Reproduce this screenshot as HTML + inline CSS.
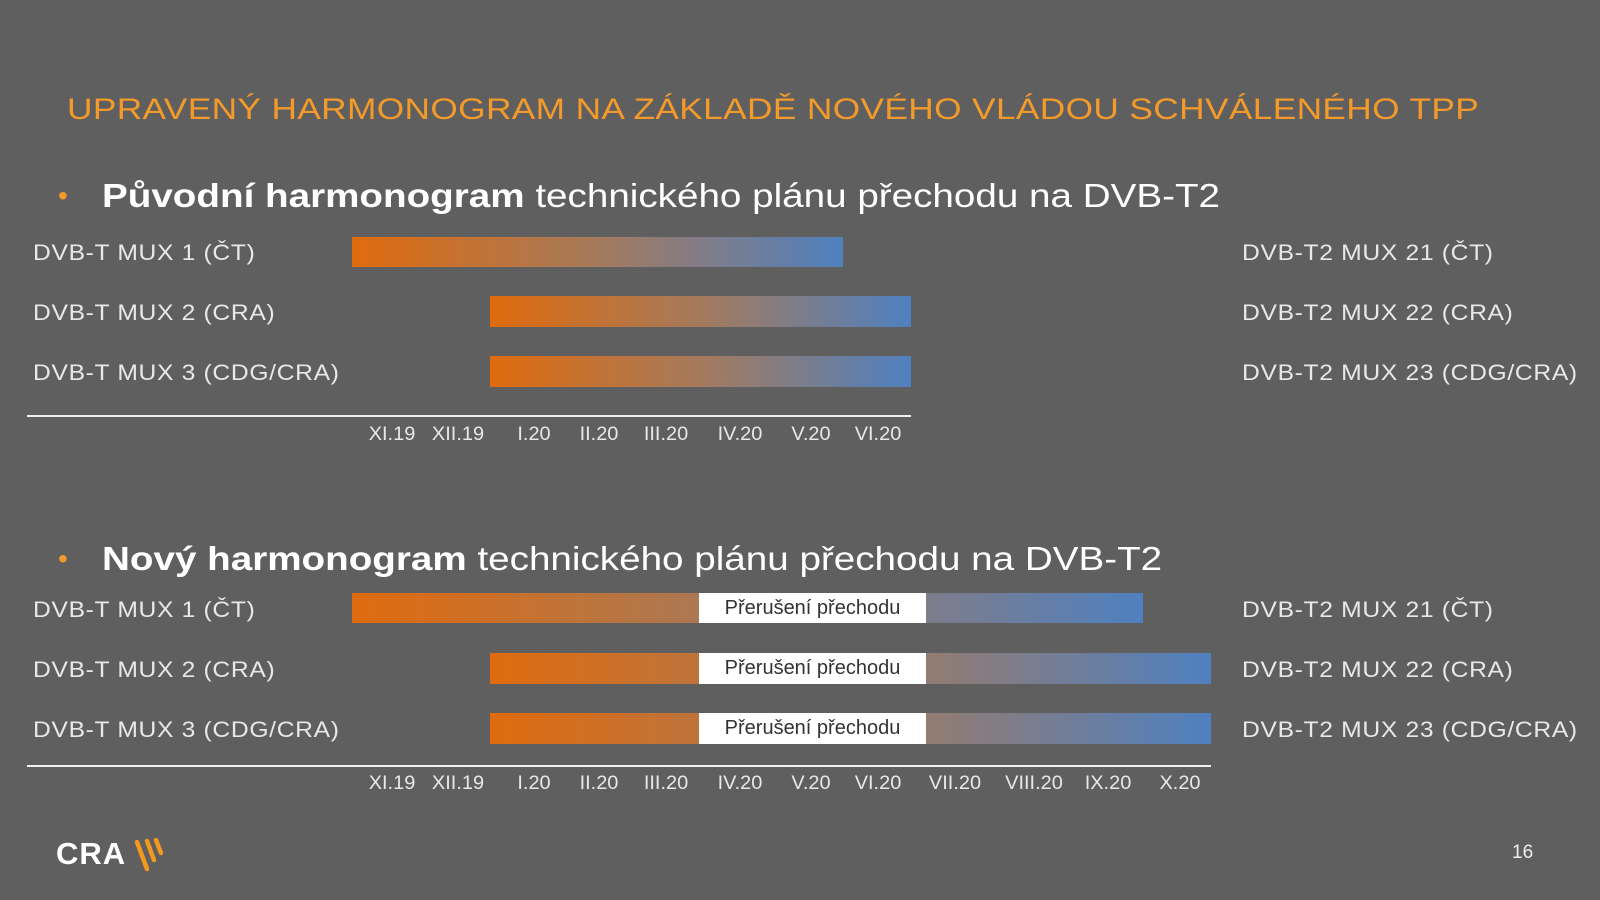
<!DOCTYPE html>
<html><head><meta charset="utf-8"><style>
body{margin:0;width:1600px;height:900px;background:#5f5f5f;position:relative;overflow:hidden;font-family:"Liberation Sans",sans-serif;color:#fff}
.a{position:absolute;white-space:nowrap}
.t{left:67px;top:93px;font-size:30px;color:#f39a2a;letter-spacing:0.3px;transform:scaleX(1.176);transform-origin:left center}
.h{left:102px;font-size:33px;color:#fff;transform:scaleX(1.17);transform-origin:left center}
.h b{font-weight:bold}
.dot{position:absolute;left:58px;font-size:28px;color:#f39a2a}
.l{font-size:22px;color:#e8e8e8;letter-spacing:0.6px;transform:translateY(-50%) scaleX(1.12);transform-origin:left center}
.bar{position:absolute;background:linear-gradient(90deg,#e06b0e 0%,#a57a5c 50%,#4f80c0 100%)}
.w{position:absolute;background:#fff;color:#333;font-size:20px;text-align:center;line-height:31px}
.ax{position:absolute;height:2px;background:#f0f0f0;left:27px}
.k{font-size:19px;color:#e8e8e8;transform:translate(-50%,-50%) scaleX(1.05)}
</style></head><body>
<div class="a t">UPRAVENÝ HARMONOGRAM NA ZÁKLADĚ NOVÉHO VLÁDOU SCHVÁLENÉHO TPP</div>

<div class="dot" style="top:180px">•</div>
<div class="a h" style="top:177px"><b>Původní harmonogram</b> technického plánu přechodu na DVB-T2</div>
<div class="a l" style="left:33px;top:253px">DVB-T MUX 1 (ČT)</div>
<div class="a l" style="left:33px;top:313px">DVB-T MUX 2 (CRA)</div>
<div class="a l" style="left:33px;top:373px">DVB-T MUX 3 (CDG/CRA)</div>
<div class="a l" style="left:1242px;top:253px">DVB-T2 MUX 21 (ČT)</div>
<div class="a l" style="left:1242px;top:313px">DVB-T2 MUX 22 (CRA)</div>
<div class="a l" style="left:1242px;top:373px">DVB-T2 MUX 23 (CDG/CRA)</div>
<div class="bar" style="left:352px;width:491px;top:237px;height:30px"></div>
<div class="bar" style="left:490px;width:421px;top:296px;height:31px"></div>
<div class="bar" style="left:490px;width:421px;top:356px;height:31px"></div>
<div class="ax" style="top:415px;width:884px"></div>
<div class="a k" style="left:392px;top:435px">XI.19</div>
<div class="a k" style="left:458px;top:435px">XII.19</div>
<div class="a k" style="left:534px;top:435px">I.20</div>
<div class="a k" style="left:599px;top:435px">II.20</div>
<div class="a k" style="left:666px;top:435px">III.20</div>
<div class="a k" style="left:740px;top:435px">IV.20</div>
<div class="a k" style="left:811px;top:435px">V.20</div>
<div class="a k" style="left:878px;top:435px">VI.20</div>

<div class="dot" style="top:543px">•</div>
<div class="a h" style="top:540px"><b>Nový harmonogram</b> technického plánu přechodu na DVB-T2</div>
<div class="a l" style="left:33px;top:610px">DVB-T MUX 1 (ČT)</div>
<div class="a l" style="left:33px;top:670px">DVB-T MUX 2 (CRA)</div>
<div class="a l" style="left:33px;top:730px">DVB-T MUX 3 (CDG/CRA)</div>
<div class="a l" style="left:1242px;top:610px">DVB-T2 MUX 21 (ČT)</div>
<div class="a l" style="left:1242px;top:670px">DVB-T2 MUX 22 (CRA)</div>
<div class="a l" style="left:1242px;top:730px">DVB-T2 MUX 23 (CDG/CRA)</div>
<div class="bar" style="left:352px;width:791px;top:593px;height:30px"></div>
<div class="bar" style="left:490px;width:721px;top:653px;height:31px"></div>
<div class="bar" style="left:490px;width:721px;top:713px;height:31px"></div>
<div class="w" style="left:699px;width:227px;top:593px;height:30px">Přerušení přechodu</div>
<div class="w" style="left:699px;width:227px;top:653px;height:31px">Přerušení přechodu</div>
<div class="w" style="left:699px;width:227px;top:713px;height:31px">Přerušení přechodu</div>
<div class="ax" style="top:765px;width:1184px"></div>
<div class="a k" style="left:392px;top:784px">XI.19</div>
<div class="a k" style="left:458px;top:784px">XII.19</div>
<div class="a k" style="left:534px;top:784px">I.20</div>
<div class="a k" style="left:599px;top:784px">II.20</div>
<div class="a k" style="left:666px;top:784px">III.20</div>
<div class="a k" style="left:740px;top:784px">IV.20</div>
<div class="a k" style="left:811px;top:784px">V.20</div>
<div class="a k" style="left:878px;top:784px">VI.20</div>
<div class="a k" style="left:955px;top:784px">VII.20</div>
<div class="a k" style="left:1034px;top:784px">VIII.20</div>
<div class="a k" style="left:1108px;top:784px">IX.20</div>
<div class="a k" style="left:1180px;top:784px">X.20</div>

<div class="a" style="left:56px;top:836px;font-size:31px;font-weight:bold;color:#fff;letter-spacing:1px">CRA</div>
<svg class="a" style="left:134px;top:838px" width="36" height="36" viewBox="0 0 36 36">
<g stroke="#f39a1e" stroke-width="4.5" stroke-linecap="round">
<line x1="3" y1="4" x2="13" y2="31"/><line x1="13" y1="3" x2="20" y2="22"/><line x1="22" y1="2" x2="27" y2="15"/></g></svg>
<div class="a" style="left:1512px;top:842px;font-size:19px;color:#eee">16</div>
</body></html>
